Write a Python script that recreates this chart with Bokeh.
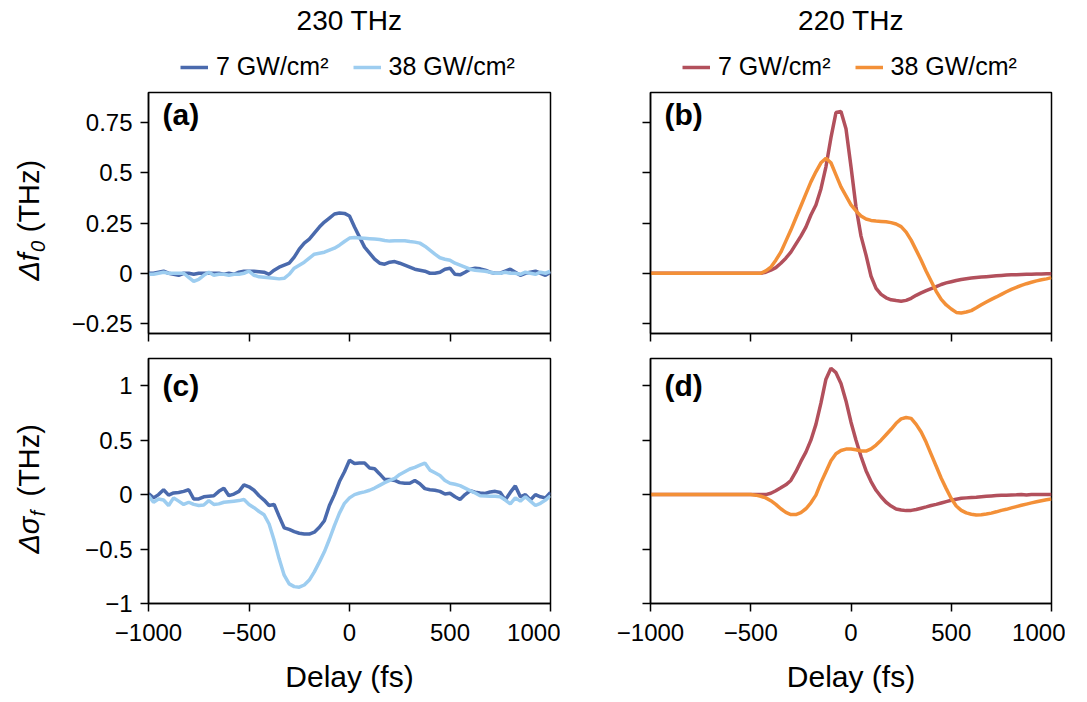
import math
from bokeh.plotting import figure
from bokeh.models import Legend, LegendItem, Label, Range1d, FixedTicker
from bokeh.layouts import gridplot
from bokeh.embed import file_html
from bokeh.resources import INLINE

FONT = "Liberation Sans"

# ---------------- data ----------------
delay = list(range(-1000, 1001, 25))  # fs

# (a) 230 THz, delta f0
a_7 = [0.0, 0.0, 0.005, 0.01, 0.0, -0.005, -0.01, 0.0, 0.0, -0.005,
       0.0, 0.0, 0.0, 0.0, 0.0, -0.005, 0.0, -0.005, 0.005, 0.01,
       0.01, 0.01, 0.008, 0.005, -0.005, 0.015, 0.03, 0.04, 0.05, 0.08,
       0.12, 0.15, 0.17, 0.2, 0.23, 0.255, 0.275, 0.295, 0.30, 0.298,
       0.285, 0.23, 0.18, 0.13, 0.10, 0.07, 0.05, 0.045, 0.055, 0.058,
       0.05, 0.04, 0.03, 0.02, 0.015, 0.01, 0.0, 0.0, 0.005, 0.02,
       0.025, -0.005, -0.008, 0.005, 0.02, 0.025, 0.022, 0.015, 0.005, 0.0,
       0.0, 0.01, 0.02, 0.005, -0.01, 0.0, 0.005, 0.01, 0.0, -0.01, 0.005]
a_38 = [-0.005, -0.005, 0.0, 0.005, 0.0, 0.0, 0.0, 0.0, -0.02, -0.04,
        -0.03, -0.01, 0.005, -0.01, -0.005, -0.005, -0.01, -0.005, -0.005, 0.0,
        0.01, -0.01, -0.018, -0.02, -0.022, -0.025, -0.028, -0.025, -0.005, 0.025,
        0.04, 0.055, 0.075, 0.095, 0.1, 0.105, 0.115, 0.125, 0.14, 0.158,
        0.175, 0.178, 0.176, 0.174, 0.172, 0.17, 0.168, 0.163, 0.16, 0.162,
        0.162, 0.162, 0.158, 0.155, 0.15, 0.135, 0.115, 0.095, 0.077, 0.07,
        0.065, 0.05, 0.04, 0.03, 0.02, 0.015, 0.012, 0.01, 0.005, 0.0,
        0.0, 0.005, 0.0, 0.0, -0.005, 0.005, 0.0, -0.005, 0.005, 0.0, 0.01]

# (b) 220 THz, delta f0
b_7 = [0.0, 0.0, 0.0, 0.0, 0.0, 0.0, 0.0, 0.0, 0.0, 0.0,
       0.0, 0.0, 0.0, 0.0, 0.0, 0.0, 0.0, 0.0, 0.0, 0.0,
       0.0, 0.0, 0.0, 0.005, 0.015, 0.028, 0.05, 0.075, 0.105, 0.145,
       0.185, 0.23, 0.29, 0.34, 0.42, 0.53, 0.675, 0.80, 0.805, 0.72,
       0.53, 0.33, 0.185, 0.09, -0.015, -0.075, -0.105, -0.122, -0.132, -0.136,
       -0.139, -0.135, -0.125, -0.11, -0.098, -0.087, -0.077, -0.067, -0.056, -0.048,
       -0.042, -0.036, -0.031, -0.027, -0.024, -0.021, -0.019, -0.017, -0.015, -0.013,
       -0.011, -0.009, -0.008, -0.007, -0.006, -0.005, -0.005, -0.004, -0.004, -0.003, -0.003]
b_38 = [0.0, 0.0, 0.0, 0.0, 0.0, 0.0, 0.0, 0.0, 0.0, 0.0,
        0.0, 0.0, 0.0, 0.0, 0.0, 0.0, 0.0, 0.0, 0.0, 0.0,
        0.0, 0.0, 0.0, 0.012, 0.03, 0.065, 0.105, 0.16, 0.215, 0.275,
        0.335, 0.395, 0.455, 0.505, 0.55, 0.572, 0.55, 0.49, 0.43, 0.385,
        0.34, 0.31, 0.285, 0.27, 0.263, 0.26, 0.258, 0.256, 0.252, 0.245,
        0.232, 0.205, 0.165, 0.115, 0.065, 0.01, -0.04, -0.09, -0.13, -0.158,
        -0.178, -0.195, -0.198, -0.193, -0.186, -0.172, -0.157, -0.143, -0.13, -0.118,
        -0.105, -0.092, -0.08, -0.07, -0.06, -0.052, -0.045, -0.038, -0.032, -0.028, -0.022]

# (c) 230 THz, delta sigma_f
c_7 = [0.01, -0.03, 0.0, 0.045, -0.005, 0.015, 0.02, 0.03, 0.045, -0.04,
       -0.04, -0.02, -0.015, -0.01, 0.03, 0.058, -0.01, 0.005, 0.03, 0.09,
       0.072, 0.04, -0.01, -0.05, -0.1, -0.09, -0.2, -0.305, -0.32, -0.34,
       -0.355, -0.362, -0.362, -0.345, -0.3, -0.24, -0.1, 0.0, 0.12, 0.21,
       0.315, 0.285, 0.29, 0.29, 0.245, 0.237, 0.19, 0.14, 0.138, 0.13,
       0.11, 0.104, 0.104, 0.13, 0.1, 0.055, 0.045, 0.04, 0.03, 0.005,
       0.012, -0.02, -0.045, 0.0, 0.035, 0.022, 0.015, 0.01, 0.025, 0.03,
       0.02, -0.05, 0.02, 0.08, -0.02, 0.0, -0.05, 0.0, -0.02, -0.03, 0.02]
c_38 = [-0.01, -0.07, -0.04, -0.05, -0.1, -0.03, -0.06, -0.09, -0.07, -0.09,
        -0.1, -0.095, -0.055, -0.09, -0.085, -0.07, -0.065, -0.06, -0.055, -0.045,
        -0.09, -0.12, -0.155, -0.185, -0.27, -0.42, -0.59, -0.74, -0.82, -0.845,
        -0.85, -0.83, -0.785, -0.71, -0.62, -0.525, -0.41, -0.285, -0.17, -0.08,
        -0.03, 0.0, 0.015, 0.025, 0.04, 0.06, 0.085, 0.11, 0.13, 0.15,
        0.185, 0.21, 0.235, 0.25, 0.27, 0.29, 0.225, 0.2, 0.175, 0.13,
        0.105, 0.095, 0.083, 0.06, 0.037, 0.015, -0.01, -0.012, -0.015, -0.015,
        -0.02, -0.05, -0.085, -0.03, -0.06, -0.02, -0.06, -0.1, -0.08, -0.05, -0.01]

# (d) 220 THz, delta sigma_f
d_7 = [0.0, 0.0, 0.0, 0.0, 0.0, 0.0, 0.0, 0.0, 0.0, 0.0,
       0.0, 0.0, 0.0, 0.0, 0.0, 0.0, 0.0, 0.0, 0.0, 0.0,
       0.0, 0.0, 0.0, 0.0, 0.012, 0.035, 0.062, 0.09, 0.13, 0.21,
       0.305, 0.39, 0.5, 0.645, 0.84, 1.06, 1.16, 1.12, 1.02, 0.86,
       0.665, 0.5, 0.35, 0.22, 0.12, 0.04, -0.02, -0.07, -0.105, -0.132,
       -0.142, -0.147, -0.145, -0.137, -0.125, -0.113, -0.1, -0.09, -0.077, -0.064,
       -0.052, -0.042, -0.034, -0.03, -0.027, -0.024, -0.02, -0.016, -0.012, -0.008,
       -0.005, -0.005, -0.003, -0.002, 0.0, -0.003, 0.0, 0.002, 0.0, 0.0, 0.0]
d_38 = [0.0, 0.0, 0.0, 0.0, 0.0, 0.0, 0.0, 0.0, 0.0, 0.0,
        0.0, 0.0, 0.0, 0.0, 0.0, 0.0, 0.0, 0.0, 0.0, 0.0,
        0.0, -0.005, -0.015, -0.03, -0.056, -0.09, -0.13, -0.163, -0.183, -0.183,
        -0.165, -0.13, -0.075, -0.005, 0.11, 0.21, 0.31, 0.375, 0.405, 0.418,
        0.418, 0.412, 0.4, 0.4, 0.42, 0.455, 0.5, 0.55, 0.6, 0.655,
        0.695, 0.708, 0.7, 0.645, 0.575, 0.48, 0.37, 0.26, 0.15, 0.055,
        -0.035, -0.105, -0.145, -0.168, -0.18, -0.188, -0.185, -0.178, -0.17, -0.158,
        -0.145, -0.135, -0.122, -0.11, -0.098, -0.087, -0.076, -0.066, -0.056, -0.047, -0.04]

titles = ["230 THz", "220 THz"]
series_labels = ["7 GW/cm²", "38 GW/cm²"]
colors_230 = ["#4a6aad", "#9dcdf0"]
colors_220 = ["#b2505c", "#f39038"]

x_ticks = [-1000, -500, 0, 500, 1000]
x_tick_labels = ["\u22121000", "\u2212500", "0", "500", "1000"]
yf_ticks = [-0.25, 0, 0.25, 0.5, 0.75]
yf_tick_labels = ["\u22120.25", "0", "0.25", "0.5", "0.75"]
ys_ticks = [-1, -0.5, 0, 0.5, 1]
ys_tick_labels = ["\u22121", "\u22120.5", "0", "0.5", "1"]

TICK_SIZE = "24px"
LABEL_SIZE = "30px"
LW = 3.5

# layout geometry (pixels)
COL0_W = 56
L1, R1, FW1 = 92, 10, 402
L2, R2, FW2 = 90, 14, 401
HEAD_H = 88
HEAD_Y0 = 100          # header strip uses its own offset coordinate range
TOP1, FH1, BOT1 = 4, 241, 12
TOP2, FH2, BOT2 = 13, 245, 98


def blank(fw, fh, left, right, yr, xr=(-1000, 1000)):
    p = figure(output_backend="svg", toolbar_location=None,
               frame_width=fw, frame_height=fh,
               min_border_left=left, min_border_right=right,
               min_border_top=0, min_border_bottom=0,
               x_range=Range1d(*xr), y_range=Range1d(*yr),
               x_axis_location=None, y_axis_location=None, title=None)
    p.xgrid.visible = False
    p.ygrid.visible = False
    p.outline_line_color = None
    p.background_fill_color = "white"
    p.border_fill_color = "white"
    return p


def make_fig(fw, fh, left, right, top, bottom, yr, yticks, ylabels, show_y, show_x):
    p = figure(output_backend="svg", toolbar_location=None,
               frame_width=fw, frame_height=fh,
               min_border_left=left, min_border_right=right,
               min_border_top=top, min_border_bottom=bottom,
               x_range=Range1d(-1000, 1000), y_range=Range1d(*yr),
               title=None)
    p.xgrid.visible = False
    p.ygrid.visible = False
    p.outline_line_color = "black"
    p.outline_line_width = 1.5
    p.outline_line_alpha = 1.0
    p.background_fill_color = "white"
    p.border_fill_color = "white"
    for ax in (p.xaxis[0], p.yaxis[0]):
        ax.axis_line_width = 1.5
        ax.axis_line_color = "black"
        ax.major_tick_line_width = 1.5
        ax.major_tick_line_color = "black"
        ax.major_tick_in = 0
        ax.major_tick_out = 8
        ax.minor_tick_line_color = None
        ax.major_label_text_font = FONT
        ax.major_label_text_font_size = TICK_SIZE
        ax.major_label_text_color = "black"
        ax.axis_label_text_font = FONT
        ax.axis_label_text_font_style = "normal"
        ax.axis_label_text_font_size = LABEL_SIZE
        ax.axis_label_text_color = "black"
    p.xaxis.ticker = FixedTicker(ticks=x_ticks)
    p.yaxis.ticker = FixedTicker(ticks=yticks)
    if show_x:
        p.xaxis.major_label_overrides = {t: l for t, l in zip(x_ticks, x_tick_labels)}
        p.xaxis.major_label_standoff = 12
        p.xaxis.axis_label = "Delay (fs)"
        p.xaxis.axis_label_standoff = 16
    else:
        p.xaxis.major_label_overrides = {t: "" for t in x_ticks}
        p.xaxis.major_label_standoff = 0
        p.xaxis.major_label_text_font_size = "1px"
    if show_y:
        p.yaxis.major_label_overrides = {t: l for t, l in zip(yticks, ylabels)}
        p.yaxis.major_label_standoff = 8
    else:
        p.yaxis.major_label_overrides = {t: "" for t in yticks}
        p.yaxis.major_label_standoff = 0
        p.yaxis.major_label_text_font_size = "1px"
    return p


pa = make_fig(FW1, FH1, L1, R1, TOP1, BOT1, (-0.3, 0.9), yf_ticks, yf_tick_labels, True, False)
pb = make_fig(FW2, FH1, L2, R2, TOP1, BOT1, (-0.3, 0.9), yf_ticks, yf_tick_labels, False, False)
pc = make_fig(FW1, FH2, L1, R1, TOP2, BOT2, (-1.0, 1.25), ys_ticks, ys_tick_labels, True, True)
pd = make_fig(FW2, FH2, L2, R2, TOP2, BOT2, (-1.0, 1.25), ys_ticks, ys_tick_labels, False, True)

pa.line(delay, a_7, line_color=colors_230[0], line_width=LW)
pa.line(delay, a_38, line_color=colors_230[1], line_width=LW)
pb.line(delay, b_7, line_color=colors_220[0], line_width=LW)
pb.line(delay, b_38, line_color=colors_220[1], line_width=LW)
pc.line(delay, c_7, line_color=colors_230[0], line_width=LW)
pc.line(delay, c_38, line_color=colors_230[1], line_width=LW)
pd.line(delay, d_7, line_color=colors_220[0], line_width=LW)
pd.line(delay, d_38, line_color=colors_220[1], line_width=LW)

# panel letters
for p, txt, y in ((pa, "(a)", 0.875), (pb, "(b)", 0.875), (pc, "(c)", 1.155), (pd, "(d)", 1.155)):
    p.add_layout(Label(x=-930, y=y, text=txt, text_font=FONT, text_font_size="30px",
                       text_color="black", text_font_style="bold",
                       text_baseline="top", text_align="left"))

# header strips: column titles + legends (legend renderers are the same series,
# drawn in an offset coordinate range so that only their legend swatch shows)
ha = blank(FW1, HEAD_H, L1, R1, (HEAD_Y0, HEAD_Y0 + HEAD_H))
hb = blank(FW2, HEAD_H, L2, R2, (HEAD_Y0, HEAD_Y0 + HEAD_H))
for h, cols, sers, t in ((ha, colors_230, (a_7, a_38), titles[0]),
                         (hb, colors_220, (b_7, b_38), titles[1])):
    r1 = h.line(delay, sers[0], line_color=cols[0], line_width=LW)
    r2 = h.line(delay, sers[1], line_color=cols[1], line_width=LW)
    leg = Legend(items=[LegendItem(label=series_labels[0], renderers=[r1]),
                        LegendItem(label=series_labels[1], renderers=[r2])],
                 orientation="horizontal", location=(32, 7),
                 label_text_font=FONT, label_text_font_size="25px",
                 label_text_color="black",
                 glyph_width=28, glyph_height=20, label_standoff=8, spacing=24,
                 padding=0, margin=0, border_line_color=None,
                 background_fill_alpha=0)
    h.add_layout(leg, "center")
    h.add_layout(Label(x=0, y=HEAD_Y0 + HEAD_H - 20, text=t, text_font=FONT,
                       text_font_size="28px", text_color="black",
                       text_align="center", text_baseline="middle"))

# y-axis label strips (italic symbol + subscript)
H1 = TOP1 + FH1 + BOT1
H2 = TOP2 + FH2 + BOT2
ya = blank(COL0_W, H1, 0, 0, (0, H1), xr=(0, COL0_W))
yc = blank(COL0_W, H2, 0, 0, (0, H2), xr=(0, COL0_W))


def ylabel(p, x, y, sym, sub, sym_w, size=29):
    common = dict(x=x, y=y, angle=math.pi / 2, text_font=FONT, text_baseline="middle",
                  text_align="left", text_color="black")
    d_w = 0.667 * size
    p.add_layout(Label(text="\u0394", text_font_size=f"{size}px", text_font_style="italic",
                       **common))
    p.add_layout(Label(text=sym, text_font_size=f"{size}px", text_font_style="italic",
                       y_offset=d_w, **common))
    sub_size = round(size * 0.68)
    off = d_w + sym_w * size + 1
    p.add_layout(Label(text=sub, text_font_size=f"{sub_size}px", text_font_style="italic",
                       y_offset=off, x_offset=9, **common))
    off2 = off + 0.556 * sub_size + 0.3 * size
    p.add_layout(Label(text="(THz)", text_font_size=f"{size}px", y_offset=off2, **common))


ylabel(ya, 28, H1 - (276 - HEAD_H), "f", "0", 0.278)
ylabel(yc, 28, H2 - (540 - HEAD_H - H1), "\u03c3", "f", 0.58)

grid = gridplot([[None, ha, hb], [ya, pa, pb], [yc, pc, pd]], toolbar_location=None)

open("out.html", "w").write(file_html(grid, INLINE))
